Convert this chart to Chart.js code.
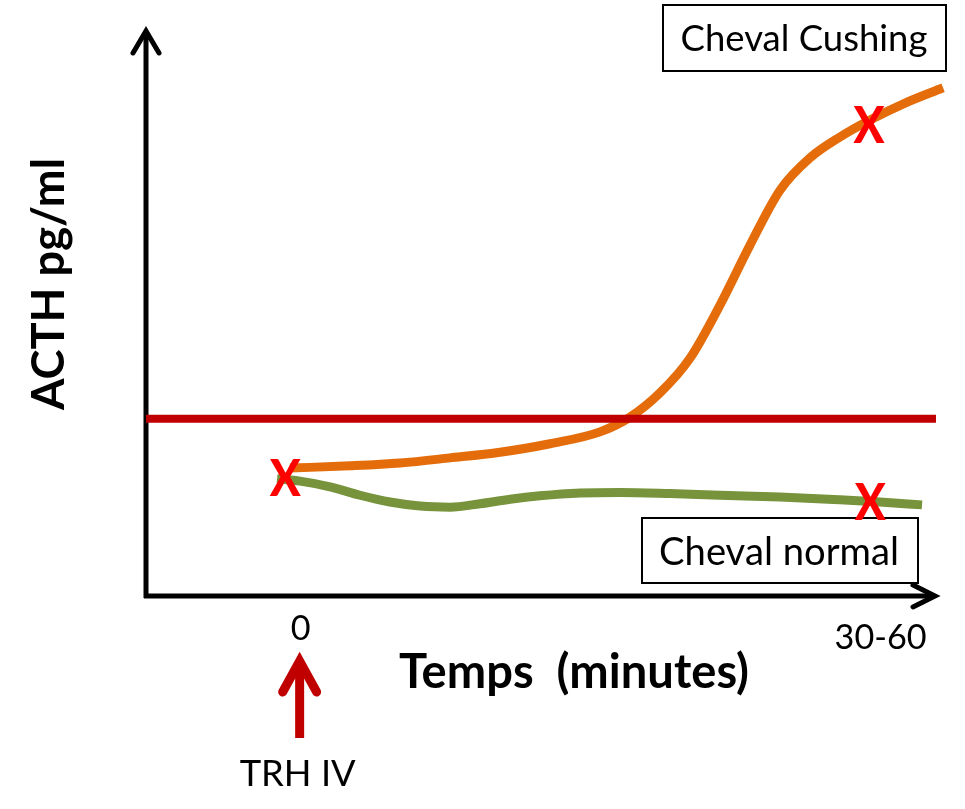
<!DOCTYPE html>
<html>
<head>
<meta charset="utf-8">
<script src="https://cdn.jsdelivr.net/npm/chart.js@4"></script>
<style>
  body { margin: 0; background: #fff; }
</style>
</head>
<body>
<canvas id="acth" width="965" height="809"></canvas>
<script>
// courbes schematiques, unites arbitraires (0 = injection TRH)
var cushingX = [-0.83, 3.83, 7.71, 11.59, 15.47, 19.35, 23.23, 25.56, 27.89, 30.21, 32.54, 34.87, 37.2, 39.52, 41.85, 44.18, 46.9, 49.85];
var cushingY = [22.6, 23.0, 23.5, 24.4, 25.4, 26.9, 29.0, 31.6, 35.9, 42.0, 51.4, 62.0, 71.7, 77.4, 81.1, 84.1, 87.1, 89.8];
var normalX = [-1.83, -0.05, 2.28, 4.61, 6.93, 9.26, 11.59, 13.92, 16.25, 18.57, 21.68, 24.78, 28.66, 32.54, 37.2, 41.85, 44.96, 48.22];
var normalY = [20.7, 20.3, 19.3, 17.8, 16.6, 15.9, 15.7, 16.3, 17.1, 17.7, 18.2, 18.3, 18.1, 17.8, 17.5, 17.0, 16.6, 16.1];
var seuilX = [-12, 49.3];
var seuilY = [31.3, 31.3];
var mesuresX = [-1.2, 44.1, 44.2];
var mesuresY = [20.8, 83.2, 16.6];
var tickValues = [0, 45];
var tickLabels = ['0', '30-60'];

function pts(xs, ys) {
  return xs.map(function(x, i) { return { x: x, y: ys[i] }; });
}

// taille de police pour une largeur donnee
function taille(ctx, texte, poids, largeur) {
  ctx.font = poids + ' 100px Lato';
  return 100 * largeur / ctx.measureText(texte).width;
}

function ecrire(ctx, texte, cx, cy, poids, s) {
  ctx.font = poids + ' ' + s + 'px Lato';
  ctx.textAlign = 'center';
  ctx.textBaseline = 'alphabetic';
  ctx.fillText(texte, cx, cy + 0.358 * s);
}

function boite(ctx, x1, y1, x2, y2) {
  ctx.fillStyle = '#fff';
  ctx.fillRect(x1, y1, x2 - x1, y2 - y1);
  ctx.strokeStyle = '#000';
  ctx.lineWidth = 2;
  ctx.strokeRect(x1, y1, x2 - x1, y2 - y1);
}

var dessin = {
  id: 'dessin',
  beforeDatasetsDraw: function(chart) {
    var ctx = chart.ctx;
    var xs = chart.scales.x, ys = chart.scales.y;
    var left = xs.left, bottom = ys.bottom;
    ctx.save();
    ctx.strokeStyle = '#000';
    ctx.lineWidth = 5;
    // axes
    ctx.lineCap = 'butt';
    ctx.beginPath();
    ctx.moveTo(left, bottom + 2);
    ctx.lineTo(left, ys.top + 2);
    ctx.moveTo(left - 2, bottom);
    ctx.lineTo(xs.right - 11, bottom);
    ctx.stroke();
    // fleches
    ctx.lineCap = 'round';
    ctx.lineJoin = 'miter';
    ctx.beginPath();
    ctx.moveTo(left - 13, ys.top + 23);
    ctx.lineTo(left, ys.top + 1);
    ctx.lineTo(left + 13, ys.top + 23);
    ctx.moveTo(xs.right - 32, bottom - 11);
    ctx.lineTo(xs.right - 10, bottom);
    ctx.lineTo(xs.right - 32, bottom + 11);
    ctx.stroke();
    ctx.restore();
  },
  afterDatasetsDraw: function(chart) {
    var ctx = chart.ctx;
    var xs = chart.scales.x;
    ctx.save();
    ctx.fillStyle = '#000';

    boite(ctx, 663, 5, 946, 71);
    ctx.fillStyle = '#000';
    ecrire(ctx, 'Cheval Cushing', 804, 38, 'normal', taille(ctx, 'Cheval Cushing', 'normal', 247));
    boite(ctx, 642, 518, 918, 583);
    ctx.fillStyle = '#000';
    ecrire(ctx, 'Cheval normal', 779, 551, 'normal', taille(ctx, 'Cheval normal', 'normal', 240));

    // graduations
    var st = taille(ctx, '30-60', 'normal', 92);
    var tickY = [628, 637];
    tickValues.forEach(function(v, i) {
      ecrire(ctx, tickLabels[i], xs.getPixelForValue(v), tickY[i], 'normal', st);
    });

    // titres d'axes
    ecrire(ctx, 'Temps  (minutes)', 574, 671, 'bold', taille(ctx, 'Temps  (minutes)', 'bold', 350));
    ctx.save();
    ctx.translate(48, 284);
    ctx.rotate(-Math.PI / 2);
    ecrire(ctx, 'ACTH pg/ml', 0, 0, 'bold', taille(ctx, 'ACTH pg/ml', 'bold', 252));
    ctx.restore();

    // fleche TRH
    var ax = xs.getPixelForValue(0) - 1;
    ctx.strokeStyle = '#C00000';
    ctx.lineWidth = 9;
    ctx.lineCap = 'butt';
    ctx.beginPath();
    ctx.moveTo(ax, 738);
    ctx.lineTo(ax, 664);
    ctx.stroke();
    ctx.lineCap = 'round';
    ctx.lineJoin = 'miter';
    ctx.beginPath();
    ctx.moveTo(ax - 17, 692);
    ctx.lineTo(ax, 661);
    ctx.lineTo(ax + 17, 692);
    ctx.stroke();
    ctx.fillStyle = '#000';
    ecrire(ctx, 'TRH IV', ax - 2, 773, 'normal', taille(ctx, 'TRH IV', 'normal', 116));

    // croix des mesures
    ctx.fillStyle = '#FF0000';
    chart.getDatasetMeta(3).data.forEach(function(p) {
      ctx.save();
      ctx.translate(p.x, p.y);
      ctx.scale(0.95, 1.05);
      ecrire(ctx, 'X', 0, 0, '900', 48);
      ctx.restore();
    });
    ctx.restore();
  }
};

new Chart(document.getElementById('acth'), {
  type: 'line',
  data: {
    datasets: [
      { label: 'Seuil', data: pts(seuilX, seuilY), borderColor: '#C00000', borderWidth: 8, pointRadius: 0, borderCapStyle: 'butt' },
      { label: 'Cheval normal', data: pts(normalX, normalY), borderColor: '#77933C', borderWidth: 9, pointRadius: 0, cubicInterpolationMode: 'monotone' },
      { label: 'Cheval Cushing', data: pts(cushingX, cushingY), borderColor: '#E46C0A', borderWidth: 9, pointRadius: 0, cubicInterpolationMode: 'monotone' },
      { label: 'Mesures', data: pts(mesuresX, mesuresY), showLine: false, pointRadius: 0 }
    ]
  },
  options: {
    responsive: false,
    devicePixelRatio: 1,
    animation: false,
    clip: false,
    layout: { padding: { left: 146, right: 20, top: 30, bottom: 213 } },
    scales: {
      x: { type: 'linear', min: -12, max: 50, display: false },
      y: { min: 0, max: 100, display: false }
    },
    plugins: { legend: { display: false }, tooltip: { enabled: false } }
  },
  plugins: [dessin]
});
</script>
</body>
</html>
